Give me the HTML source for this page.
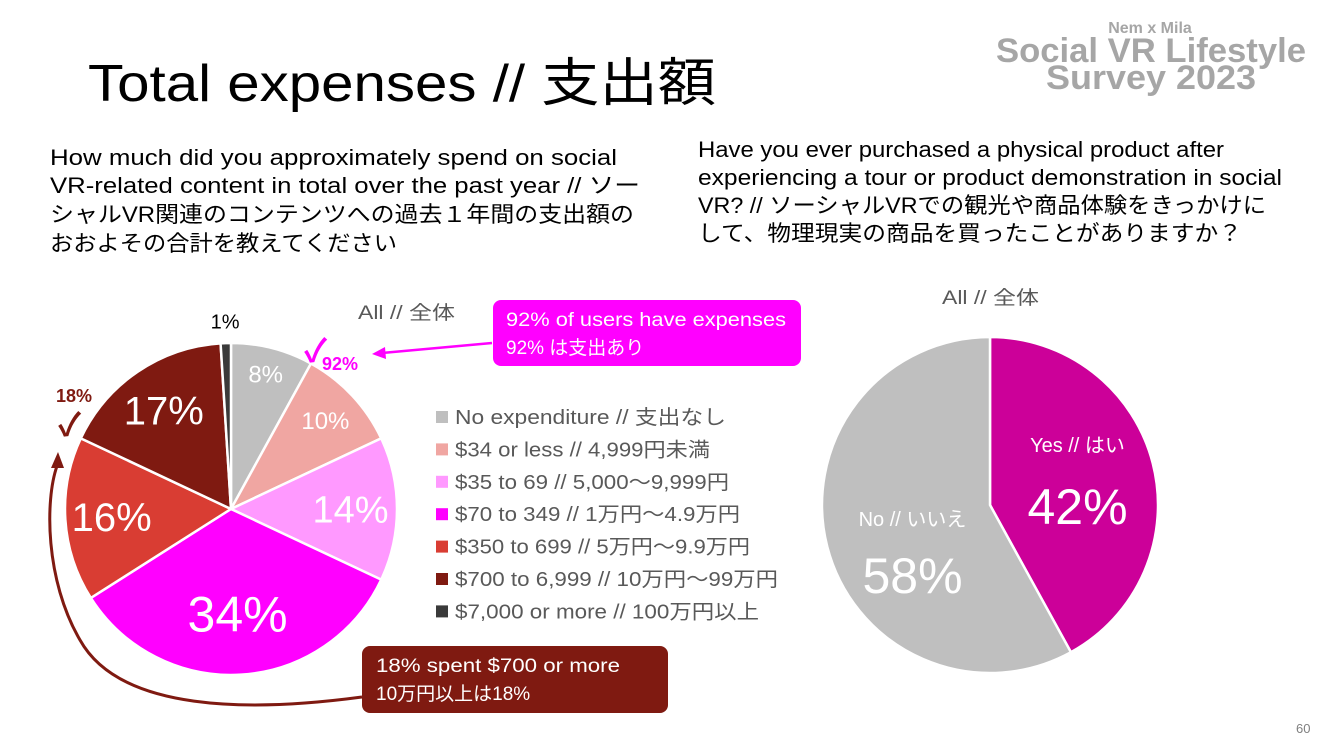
<!DOCTYPE html>
<html><head><meta charset="utf-8"><style>
html,body{margin:0;padding:0;background:#fff;}
svg{display:block;font-family:"Liberation Sans","Noto Sans CJK JP",sans-serif;}
</style></head><body>
<svg id="chart" width="1333" height="750" viewBox="0 0 1333 750">
  <g fill="#a6a6a6" font-weight="bold" text-anchor="middle">
    <text x="1150" y="33" font-size="16">Nem x Mila</text>
    <text x="1151" y="62" font-size="34" textLength="310" lengthAdjust="spacingAndGlyphs">Social VR Lifestyle</text>
    <text x="1151" y="89" font-size="34" textLength="210" lengthAdjust="spacingAndGlyphs">Survey 2023</text>
  </g>
  <text x="88" y="101" font-size="52" fill="#000" textLength="628" lengthAdjust="spacingAndGlyphs">Total expenses // 支出額</text>
  <g font-size="22" fill="#000">
    <text x="50" y="165" textLength="567" lengthAdjust="spacingAndGlyphs">How much did you approximately spend on social</text>
    <text x="50" y="193" textLength="590" lengthAdjust="spacingAndGlyphs">VR-related content in total over the past year // ソー</text>
    <text x="50" y="222" textLength="584" lengthAdjust="spacingAndGlyphs">シャルVR関連のコンテンツへの過去１年間の支出額の</text>
    <text x="50" y="251" textLength="347" lengthAdjust="spacingAndGlyphs">おおよその合計を教えてください</text>
  </g>
  <g font-size="22" fill="#000">
    <text x="698" y="157" textLength="526" lengthAdjust="spacingAndGlyphs">Have you ever purchased a physical product after</text>
    <text x="698" y="185" textLength="584" lengthAdjust="spacingAndGlyphs">experiencing a tour or product demonstration in social</text>
    <text x="698" y="213" textLength="568" lengthAdjust="spacingAndGlyphs">VR? // ソーシャルVRでの観光や商品体験をきっかけに</text>
    <text x="698" y="241" textLength="544" lengthAdjust="spacingAndGlyphs">して、物理現実の商品を買ったことがありますか？</text>
  </g>
  <text x="358" y="319" font-size="19" fill="#595959" textLength="97" lengthAdjust="spacingAndGlyphs">All // 全体</text>
  <text x="942" y="304" font-size="19" fill="#595959" textLength="97" lengthAdjust="spacingAndGlyphs">All // 全体</text>
  <g id="leftPie"></g>
  <g id="legend"></g>
  <g id="rightPie"></g>

  <g>
    <rect x="493" y="300" width="308" height="66" rx="8" fill="#ff00ff"/>
    <text x="506" y="326" font-size="19" fill="#fff" textLength="280" lengthAdjust="spacingAndGlyphs">92% of users have expenses</text>
    <text x="506" y="354" font-size="19" fill="#fff">92% は支出あり</text>
    <line x1="492" y1="343" x2="382" y2="353" stroke="#ff00ff" stroke-width="2.5"/>
    <polygon points="372,354 385,347 386,359" fill="#ff00ff"/>
    <text x="304" y="362" font-size="32" fill="#ff00ff" font-weight="bold">✓</text>
    <text x="322" y="370" font-size="18" fill="#ff00ff" font-weight="bold">92%</text>
  </g>
  <g>
    <rect x="362" y="646" width="306" height="67" rx="8" fill="#7f1a11"/>
    <text x="376" y="672" font-size="19" fill="#fff" textLength="244" lengthAdjust="spacingAndGlyphs">18% spent $700 or more</text>
    <text x="376" y="700" font-size="19" fill="#fff">10万円以上は18%</text>
    <path d="M362,697 C250,712 120,712 80,640 C45,580 45,500 57,466" fill="none" stroke="#7f1a11" stroke-width="3"/>
    <polygon points="58,452 51,468 64,468" fill="#7f1a11"/>
    <text x="56" y="402" font-size="18" fill="#7f1a11" font-weight="bold">18%</text>
    <text x="58" y="436" font-size="32" fill="#7f1a11" font-weight="bold">✓</text>
  </g>
  <text x="1296" y="733" font-size="13" fill="#808080">60</text>
</svg>
<script>
const leftCategories = ["No expenditure // 支出なし","$34 or less // 4,999円未満","$35 to 69 // 5,000〜9,999円","$70 to 349 // 1万円〜4.9万円","$350 to 699 // 5万円〜9.9万円","$700 to 6,999 // 10万円〜99万円","$7,000 or more // 100万円以上"];
const leftValues = [8, 10, 14, 34, 16, 17, 1];
const leftLabels = ["8%","10%","14%","34%","16%","17%","1%"];
const rightCategories = ["Yes // はい","No // いいえ"];
const rightValues = [42, 58];
const rightLabels = ["42%","58%"];

const leftColors = ["#bfbfbf","#f0a6a2","#ff99ff","#ff00ff","#d93d33","#7f1a11","#3a3a3a"];
const leftFont = [24,24,38,50,40,40,20];
const leftRad = [0.84,0.78,0.72,0.63,0.72,0.72,1.13];
const legendW = [271,255,274,285,295,323,304];
const rightColors = ["#cc0099","#bfbfbf"];
const NS = "http://www.w3.org/2000/svg";
function mk(tag, attrs, parent){const e=document.createElementNS(NS,tag);for(const k in attrs)e.setAttribute(k,attrs[k]);parent.appendChild(e);return e;}
function pt(cx,cy,r,a){return [cx+r*Math.sin(a), cy-r*Math.cos(a)];}
function drawPie(g, values, colors, cx, cy, r, cb){
  const total = values.reduce((a,b)=>a+b,0);
  let acc = 0;
  values.forEach((v,i)=>{
    const a0 = acc/total*2*Math.PI; acc += v; const a1 = acc/total*2*Math.PI;
    const p0 = pt(cx,cy,r,a0), p1 = pt(cx,cy,r,a1);
    const large = (a1-a0)>Math.PI?1:0;
    const p = mk("path",{d:`M${cx},${cy} L${p0[0]},${p0[1]} A${r},${r} 0 ${large} 1 ${p1[0]},${p1[1]} Z`,fill:colors[i],stroke:"#fff","stroke-width":2.5},g);
    
    
    cb(i,(a0+a1)/2);
  });
}
const lp = document.getElementById("leftPie");
const lcx=231, lcy=509, lr=166;
drawPie(lp, leftValues, leftColors, lcx, lcy, lr, (i,m)=>{
  const q = pt(lcx,lcy,leftRad[i]*lr,m);
  const t = mk("text",{x:q[0],y:q[1]+leftFont[i]*0.36,"font-size":leftFont[i],"text-anchor":"middle",fill:i===6?"#000":"#fff"},lp);
  t.textContent = leftLabels[i];
  
  
});
const lg = document.getElementById("legend");
leftCategories.forEach((c,i)=>{
  const y = 417 + i*32.4;
  const s = mk("rect",{x:436,y:y-6,width:12,height:12,fill:leftColors[i]},lg);
  
  
  const t = mk("text",{x:455,y:y+7,"font-size":20,fill:"#595959",textLength:legendW[i],lengthAdjust:"spacingAndGlyphs"},lg);
  t.textContent = c;
  
  
});
const rp = document.getElementById("rightPie");
const rcx=990, rcy=505, rr=168;
const rOff = [[-2,2,40],[12,30,35]];
drawPie(rp, rightValues, rightColors, rcx, rcy, rr, (i,m)=>{
  const q = pt(rcx,rcy,0.55*rr,m);
  const x = q[0]+rOff[i][0], y = q[1]+rOff[i][1];
  const t1 = mk("text",{x:x,y:y-32,"font-size":20,"text-anchor":"middle",fill:"#fff"},rp);
  t1.textContent = rightCategories[i];
  
  
  const t2 = mk("text",{x:x,y:y+rOff[i][2],"font-size":50,"text-anchor":"middle",fill:"#fff"},rp);
  t2.textContent = rightLabels[i];
  
  
});
</script>
</body></html>
